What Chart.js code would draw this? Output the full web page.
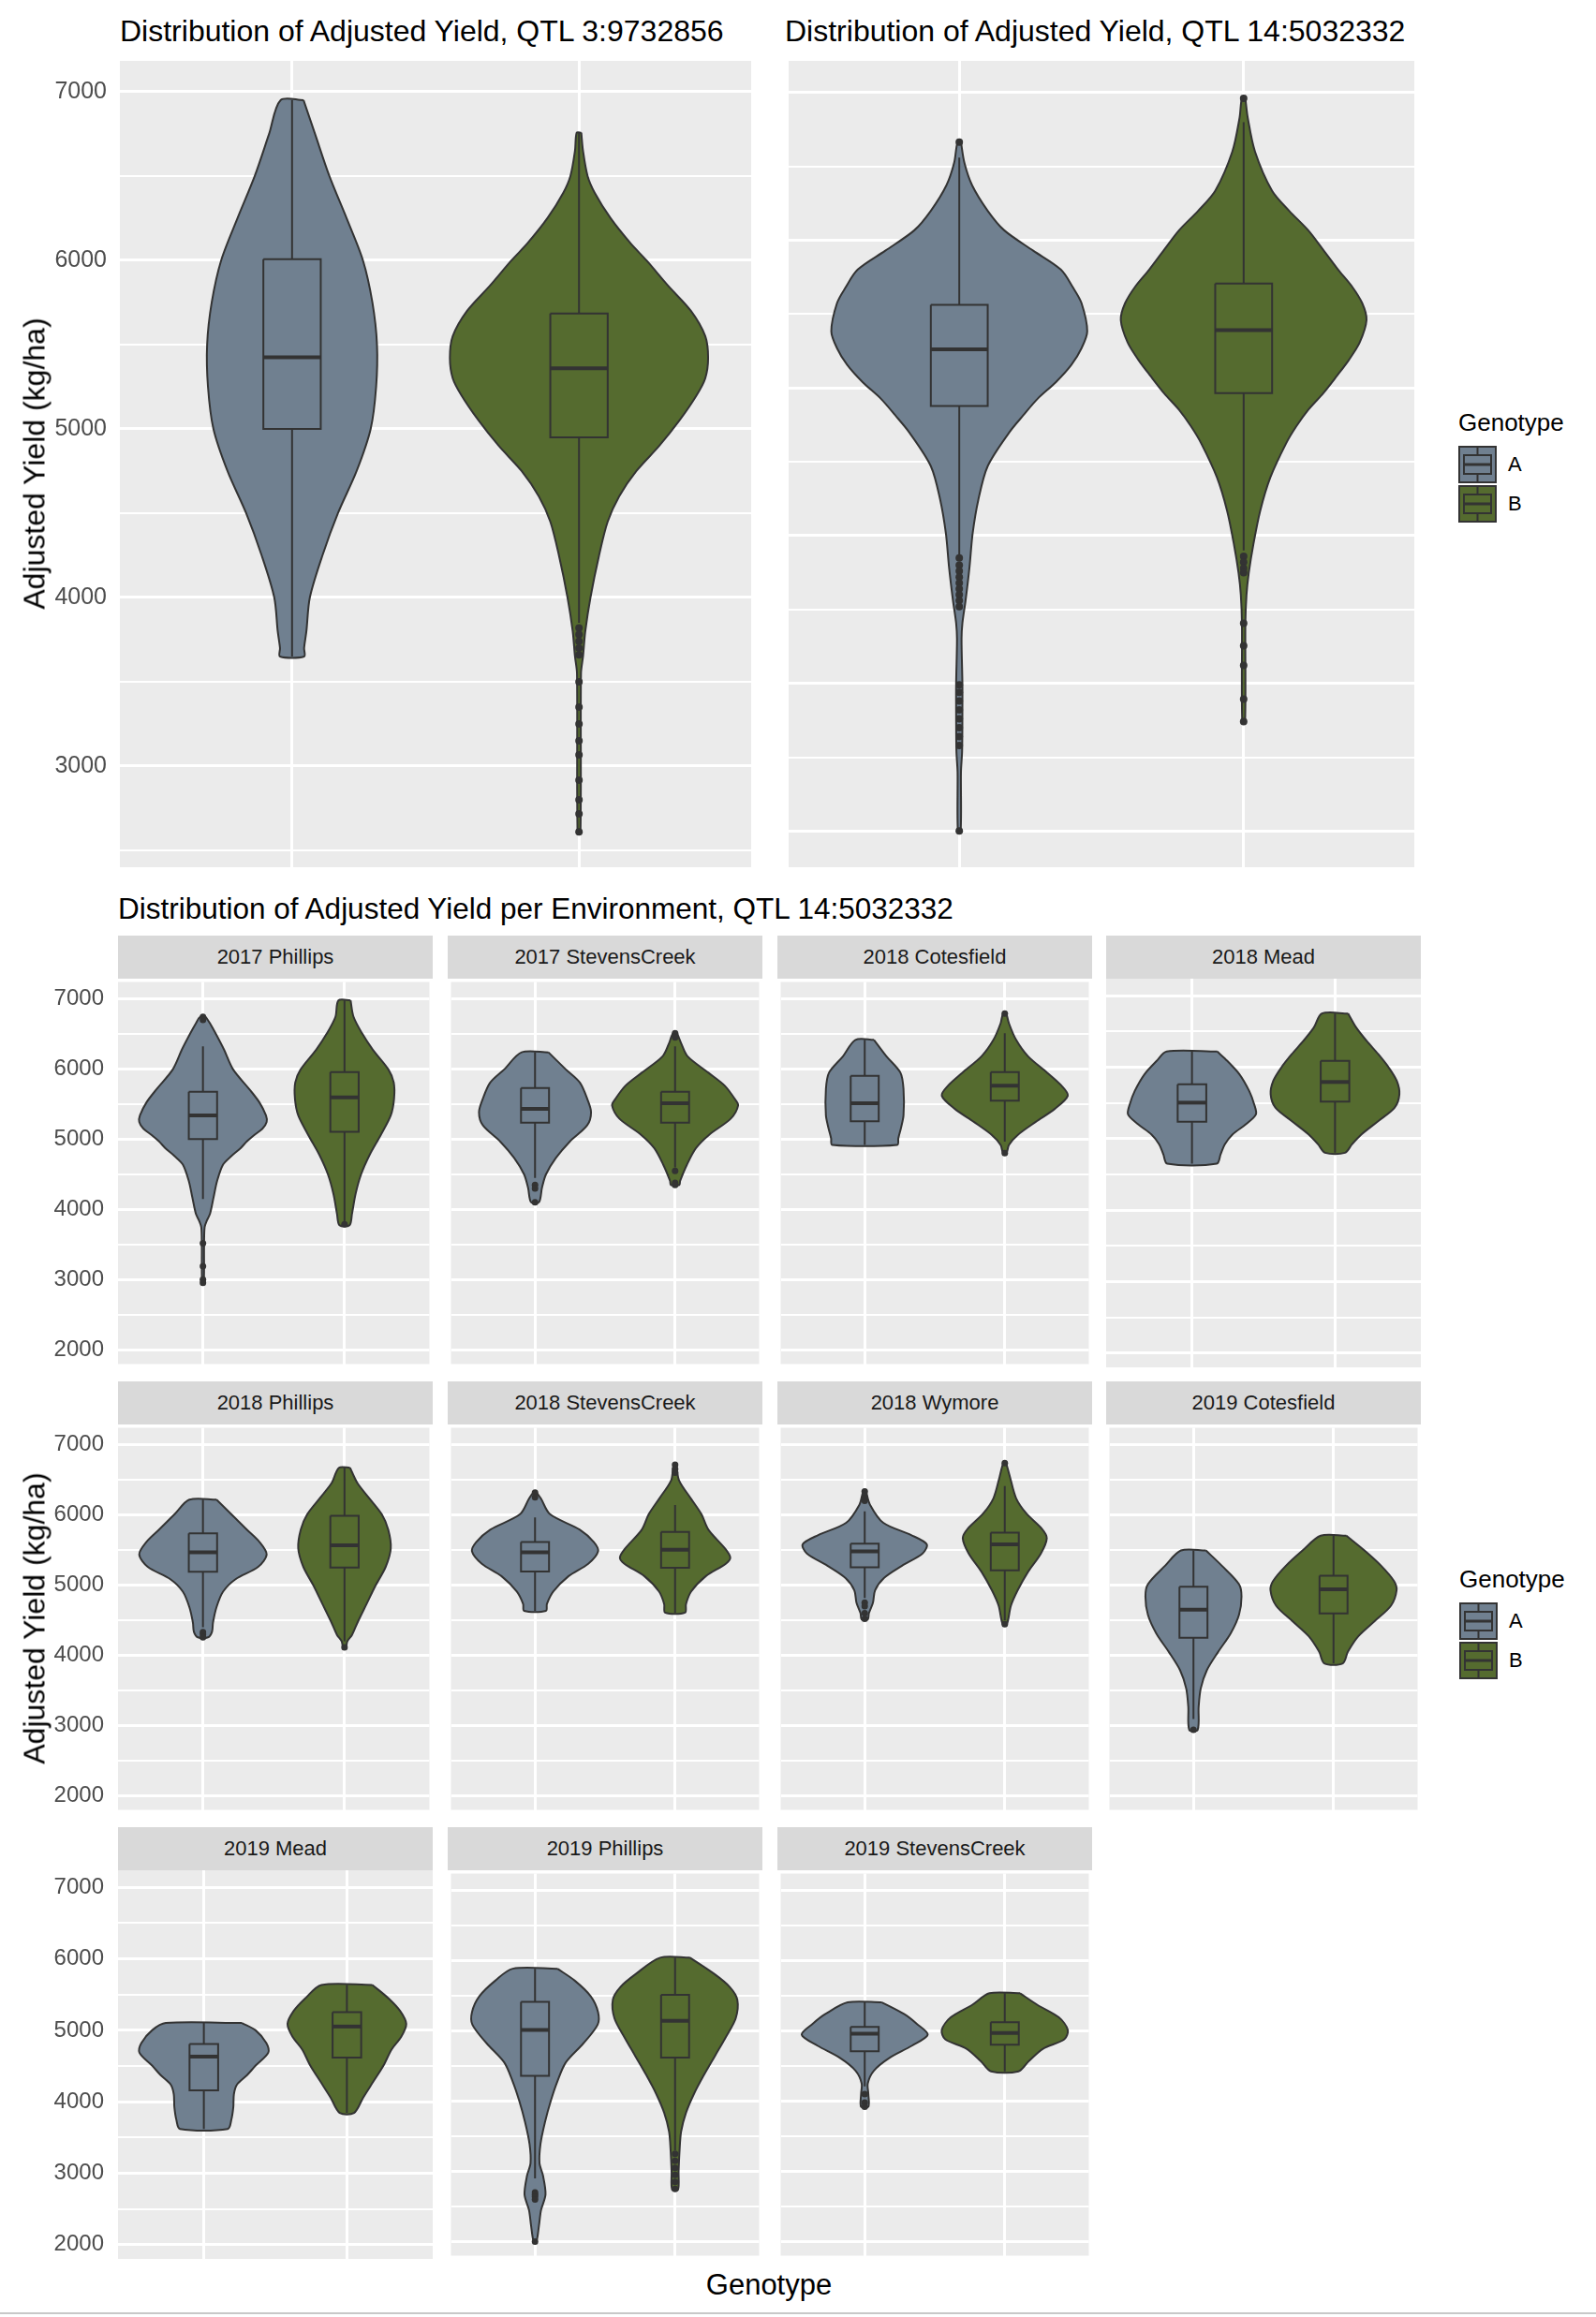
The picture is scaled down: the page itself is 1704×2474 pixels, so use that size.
<!DOCTYPE html>
<html>
<head>
<meta charset="utf-8">
<script src="https://cdn.jsdelivr.net/npm/chart.js@4.4.1/dist/chart.umd.min.js"></script>
<style>
  body { margin: 0; width: 1704px; height: 2474px; background: #fff; position: relative; overflow: hidden;
         font-family: "Liberation Sans", Arial, sans-serif; }
  .txt { position: absolute; white-space: nowrap; }
  .title { font-size: 32px; color: #000; line-height: 40px; }
  .strip { position: absolute; background: #D9D9D9; color: #1A1A1A; font-size: 22px; text-align: center;
           height: 46px; line-height: 46px; }
  .ylab { font-size: 32px; color: #000; transform: translate(-50%, -50%) rotate(-90deg); }
  .leg { font-size: 26px; color: #000; line-height: 30px; }
  .legl { font-size: 22px; color: #000; line-height: 26px; }
  canvas { position: absolute; }
</style>
</head>
<body>
<script>
// ---- categories ----
const genotypes = ['A', 'B'];
const genoPos = [1, 2];
const yBreaks = [2000, 2500, 3000, 3500, 4000, 4500, 5000, 5500, 6000, 6500, 7000];
const topTitles = ['Distribution of Adjusted Yield, QTL 3:9732856', 'Distribution of Adjusted Yield, QTL 14:5032332'];
const envTitle = 'Distribution of Adjusted Yield per Environment, QTL 14:5032332';
const envNames = ['2017 Phillips', '2017 StevensCreek', '2018 Cotesfield', '2018 Mead',
                  '2018 Phillips', '2018 StevensCreek', '2018 Wymore', '2019 Cotesfield',
                  '2019 Mead', '2019 Phillips', '2019 StevensCreek'];

// violin outlines: [yield, half width in category units]
// box stats: [lower whisker, Q1, median, Q3, upper whisker]; outliers: yields
const qtl3A = [[6950,0.04],[6750,0.08],[6500,0.13],[6250,0.19],[6000,0.247],[5750,0.28],[5500,0.296],[5250,0.293],[5000,0.274],[4750,0.225],[4500,0.16],[4250,0.106],[4000,0.062],[3800,0.05],[3700,0.042],[3650,0.042]];
const qtl3B = [[6757,0.008],[6650,0.014],[6500,0.03],[6400,0.055],[6250,0.11],[6100,0.18],[6000,0.235],[5850,0.31],[5700,0.39],[5550,0.44],[5420,0.45],[5300,0.44],[5200,0.41],[5050,0.35],[4900,0.28],[4750,0.2],[4600,0.14],[4450,0.1],[4250,0.07],[4000,0.04],[3800,0.022],[3650,0.014],[3550,0.007],[2600,0.005]];
const qtl3Box = [[3650,5000,5425,6006,6950],[3850,4950,5359,5685,6757]];
const qtl3Out = [[],[3820,3780,3740,3700,3660,3500,3350,3250,3150,3067,2917,2800,2717,2610]];

const qtl14A = [[6665,0.006],[6525,0.018],[6373,0.045],[6200,0.1],[6068,0.158],[5930,0.26],[5802,0.357],[5680,0.4],[5574,0.43],[5384,0.45],[5270,0.43],[5156,0.394],[5040,0.34],[4928,0.276],[4815,0.225],[4700,0.176],[4471,0.1],[4243,0.067],[4015,0.047],[3787,0.036],[3559,0.022],[3407,0.011],[3300,0.008],[3000,0.011],[2800,0.011],[2540,0.01],[2400,0.006],[2000,0.005]];
const qtl14B = [[6962,0.006],[6829,0.0145],[6600,0.04],[6335,0.1],[6200,0.16],[6068,0.227],[5935,0.28],[5802,0.332],[5690,0.38],[5574,0.417],[5460,0.432],[5308,0.408],[5190,0.37],[5080,0.327],[4965,0.28],[4852,0.227],[4740,0.185],[4624,0.149],[4395,0.094],[4167,0.058],[3939,0.034],[3749,0.018],[3600,0.01],[3400,0.006],[2741,0.005]];
const qtl14Box = [[3860,4878,5262,5563,6560],[3900,4966,5392,5707,6800]];
const qtl14Out = [[6665,3850,3800,3760,3720,3680,3640,3600,3560,3520,2990,2940,2880,2820,2760,2700,2640,2580,2000],
                  [6962,3860,3820,3780,3750,3407,3255,3122,2894,2741]];

const phillips17A = [[6743,0.02],[6650,0.05],[6509,0.089],[6276,0.149],[5995,0.213],[5715,0.327],[5528,0.398],[5341,0.445],[5248,0.45],[5150,0.42],[5061,0.362],[4970,0.31],[4874,0.266],[4760,0.2],[4640,0.142],[4407,0.1],[4173,0.075],[3939,0.05],[3846,0.028],[3750,0.012],[3500,0.008],[2958,0.006]];
const phillips17B = [[6977,0.043],[6743,0.064],[6509,0.124],[6276,0.2],[5995,0.31],[5808,0.348],[5575,0.35],[5341,0.327],[5061,0.256],[4780,0.178],[4500,0.117],[4220,0.078],[3939,0.053],[3776,0.036]];
const phillips17Box = [[4150,5005,5341,5678,6322],[3800,5107,5598,5958,6977]];
const phillips17Out = [[6743,6700,3519,3192,3005,2958],[3790]];

const stevens17A = [[6238,0.096],[5995,0.22],[5808,0.32],[5575,0.373],[5388,0.4],[5201,0.373],[4967,0.248],[4734,0.149],[4500,0.078],[4313,0.05],[4103,0.028]];
const stevens17B = [[6509,0.015],[6369,0.043],[6182,0.089],[5948,0.238],[5762,0.355],[5575,0.426],[5481,0.45],[5295,0.398],[5061,0.241],[4874,0.149],[4640,0.085],[4407,0.036],[4350,0.03]];
const stevens17Box = [[4450,5238,5435,5729,6238],[4600,5238,5514,5678,6322]];
const stevens17Out = [[4350,4300,4103],[6509,6450,4550,4380,4350]];

const cotes18A = [[6416,0.066],[6182,0.155],[5948,0.255],[5715,0.277],[5341,0.277],[5154,0.258],[5014,0.24],[4921,0.232]];
const cotes18B = [[6790,0.012],[6650,0.03],[6416,0.081],[6182,0.166],[5948,0.303],[5762,0.406],[5622,0.45],[5435,0.358],[5248,0.221],[5061,0.092],[4921,0.03],[4804,0.012]];
const cotes18Box = [[4921,5257,5514,5902,6416],[4967,5551,5762,5958,6509]];
const cotes18Out = [[],[6790,4804]];

const mead18A = [[6220,0.177],[6089,0.247],[5902,0.332],[5668,0.4],[5481,0.435],[5341,0.447],[5201,0.376],[5061,0.284],[4921,0.229],[4780,0.2],[4650,0.173]];
const mead18B = [[6752,0.092],[6556,0.148],[6369,0.221],[6182,0.303],[5995,0.376],[5808,0.432],[5622,0.45],[5435,0.417],[5248,0.303],[5061,0.185],[4921,0.118],[4804,0.07]];
const mead18Box = [[4650,5238,5505,5762,6220],[4804,5519,5794,6089,6752]];
const mead18Out = [[],[]];

const phillips18A = [[6216,0.096],[6009,0.2],[5789,0.31],[5612,0.4],[5436,0.45],[5260,0.39],[5084,0.23],[4907,0.142],[4687,0.096],[4467,0.071],[4335,0.064],[4256,0.036]];
const phillips18B = [[6670,0.039],[6449,0.092],[6229,0.178],[6009,0.263],[5789,0.309],[5524,0.327],[5260,0.291],[4996,0.22],[4731,0.156],[4467,0.092],[4291,0.053],[4200,0.02],[4115,0.01]];
const phillips18Box = [[4400,5189,5467,5736,6216],[4200,5251,5568,5987,6670]];
const phillips18Out = [[4330,4300,4256],[4115]];

const stevens18A = [[6317,0.012],[6229,0.043],[6009,0.107],[5789,0.32],[5612,0.42],[5480,0.45],[5304,0.38],[5128,0.24],[4907,0.13],[4731,0.085],[4634,0.078]];
const stevens18B = [[6714,0.01],[6493,0.028],[6229,0.114],[6009,0.188],[5789,0.238],[5524,0.355],[5392,0.394],[5304,0.362],[5128,0.22],[4907,0.114],[4731,0.078],[4608,0.071]];
const stevens18Box = [[4634,5194,5467,5612,5965],[4608,5247,5502,5758,6141]];
const stevens18Out = [[6317,6250],[6714,6650,6600]];

const wymore18A = [[6332,0.01],[6148,0.037],[5886,0.133],[5712,0.332],[5581,0.443],[5450,0.413],[5275,0.266],[5100,0.137],[4926,0.074],[4751,0.059],[4600,0.03],[4511,0.022]];
const wymore18B = [[6738,0.01],[6541,0.037],[6236,0.081],[6017,0.155],[5799,0.266],[5668,0.3],[5450,0.258],[5188,0.166],[4926,0.092],[4707,0.044],[4445,0.015]];
const wymore18Box = [[4817,5253,5480,5590,6050],[4500,5210,5581,5747,6410]];
const wymore18Out = [[6332,6250,6200,4750,4700,4600,4520],[6738,4445]];

const cotes19A = [[5493,0.089],[5275,0.203],[5013,0.325],[4838,0.343],[4576,0.325],[4314,0.266],[4052,0.177],[3790,0.096],[3528,0.052],[3266,0.037],[2939,0.03]];
const cotes19B = [[5703,0.092],[5493,0.221],[5275,0.34],[5057,0.432],[4926,0.45],[4707,0.41],[4489,0.295],[4271,0.177],[4052,0.103],[3886,0.066]];
const cotes19Box = [[3092,4249,4651,4978,5493],[3886,4598,4939,5135,5703]];
const cotes19Out = [[2939],[]];

const mead19A = [[5102,0.266],[5000,0.362],[4820,0.437],[4686,0.45],[4507,0.362],[4372,0.302],[4238,0.231],[4104,0.21],[3925,0.206],[3746,0.192],[3620,0.167]];
const mead19B = [[5635,0.178],[5447,0.291],[5268,0.373],[5089,0.415],[4910,0.38],[4731,0.312],[4507,0.256],[4283,0.185],[4059,0.114],[3844,0.05]];
const mead19Box = [[3620,4158,4632,4807,5102],[3844,4619,5053,5254,5635]];
const mead19Out = [[],[]];

const phillips19A = [[5885,0.16],[5715,0.284],[5492,0.398],[5268,0.45],[5089,0.447],[4820,0.344],[4551,0.22],[4283,0.16],[4014,0.114],[3701,0.071],[3388,0.039],[3119,0.032],[2940,0.057],[2671,0.075],[2448,0.043],[2224,0.028],[2000,0.01]];
const phillips19B = [[6042,0.107],[5805,0.284],[5626,0.39],[5447,0.444],[5179,0.433],[4910,0.362],[4641,0.284],[4372,0.206],[4104,0.135],[3835,0.078],[3567,0.043],[3298,0.032],[3000,0.025],[2739,0.021]];
const phillips19Box = [[2900,4359,5013,5415,5885],[3300,4619,5142,5514,6042]];
const phillips19Out = [[2700,2671,2640,2600,2000],[3250,3150,3050,2950,2850,2750]];

const stevens19A = [[5406,0.122],[5237,0.283],[5103,0.37],[4946,0.45],[4790,0.338],[4612,0.174],[4433,0.065],[4254,0.022],[4100,0.026],[3920,0.026]];
const stevens19B = [[5536,0.109],[5370,0.233],[5192,0.386],[5013,0.45],[4879,0.425],[4746,0.273],[4567,0.17],[4424,0.098]];
const stevens19Box = [[4210,4710,4960,5058,5406],[4424,4804,4969,5125,5536]];
const stevens19Out = [[4100,3980,3920],[]];

// ---- look ----
const genoFill = ['#708090', '#556B2F'];
const edge = '#333333';
const boxHalf = 0.1;
const font = '"Liberation Sans", Arial, sans-serif';
Chart.defaults.font.family = font;

Chart.register({
  id: 'panelBg',
  beforeDraw(chart) {
    const { ctx, chartArea: a } = chart;
    ctx.save();
    ctx.fillStyle = '#EBEBEB';
    ctx.fillRect(a.left, a.top, a.width, a.height);
    ctx.restore();
  }
});

function violinSets(profiles, boxes, outs, ptR) {
  const sets = [];
  genoPos.forEach((c, g) => {
    const [lw, q1, med, q3, uw] = boxes[g];
    const right = profiles[g].map(([y, w]) => ({ x: c + w, y }));
    const left = profiles[g].slice().reverse().map(([y, w]) => ({ x: c - w, y }));
    sets.push({ label: genotypes[g], data: right.concat(left, [right[0]]), fill: 'shape',
      backgroundColor: genoFill[g], borderColor: edge, borderWidth: 2, tension: 0.3, order: 5 });
    sets.push({ data: [{ x: c, y: q3 }, { x: c, y: uw }], borderColor: edge, borderWidth: 2, order: 4 });
    sets.push({ data: [{ x: c, y: q1 }, { x: c, y: lw }], borderColor: edge, borderWidth: 2, order: 4 });
    sets.push({ data: [{ x: c - boxHalf, y: q3 }, { x: c + boxHalf, y: q3 }, { x: c + boxHalf, y: q1 },
                       { x: c - boxHalf, y: q1 }, { x: c - boxHalf, y: q3 }],
      fill: 'shape', backgroundColor: genoFill[g], borderColor: edge, borderWidth: 2, order: 3 });
    sets.push({ data: [{ x: c - boxHalf, y: med }, { x: c + boxHalf, y: med }], borderColor: edge, borderWidth: 4, order: 2 });
    sets.push({ data: outs[g].map(y => ({ x: c, y })), showLine: false, pointRadius: ptR,
      pointBackgroundColor: edge, pointBorderWidth: 0, order: 1 });
  });
  return sets;
}

function makePanel(o) {
  const cv = document.createElement('canvas');
  cv.width = o.axisW + o.w;
  cv.height = o.h;
  cv.style.left = (o.x - o.axisW) + 'px';
  cv.style.top = o.y + 'px';
  document.body.appendChild(cv);
  new Chart(cv, {
    type: 'line',
    data: { datasets: violinSets(o.profiles, o.boxes, o.outs, o.ptR) },
    options: {
      responsive: false,
      animation: false,
      layout: { padding: 0 },
      elements: { point: { radius: 0, hoverRadius: 0 } },
      plugins: { legend: { display: false }, tooltip: { enabled: false } },
      scales: {
        x: {
          type: 'linear', min: 0.4, max: 2.6,
          afterBuildTicks: s => { s.ticks = genoPos.map(v => ({ value: v })); },
          afterFit: s => { s.height = 0; s.paddingLeft = 0; s.paddingRight = 0; },
          ticks: { display: false },
          grid: { color: '#FFFFFF', lineWidth: 3, drawTicks: false },
          border: { display: false }
        },
        y: {
          type: 'linear', min: o.yMin, max: o.yMax,
          afterBuildTicks: s => { s.ticks = yBreaks.filter(v => v >= s.min && v <= s.max).map(v => ({ value: v })); },
          afterFit: s => { s.width = o.axisW; s.paddingTop = 0; s.paddingBottom = 0; },
          ticks: { display: o.axisW > 0, padding: o.pad, color: '#4D4D4D', font: { size: o.fs },
                   callback: v => (v % 1000 === 0 ? String(v) : '') },
          grid: { color: '#FFFFFF', drawTicks: false,
                  lineWidth: c => (c.tick && c.tick.value % 1000 === 0 ? 3 : 2) },
          border: { display: false }
        }
      }
    }
  });
}

function addText(cls, text, left, top, extra) {
  const d = document.createElement('div');
  d.className = 'txt ' + cls;
  d.textContent = text;
  d.style.left = left + 'px';
  d.style.top = top + 'px';
  if (extra) Object.assign(d.style, extra);
  document.body.appendChild(d);
  return d;
}

function legendKey(x, y, g) {
  const cv = document.createElement('canvas');
  cv.width = 41; cv.height = 40;
  cv.style.left = x + 'px'; cv.style.top = y + 'px';
  document.body.appendChild(cv);
  const ctx = cv.getContext('2d');
  ctx.fillStyle = genoFill[g];
  ctx.fillRect(1, 1, 39, 38);
  ctx.strokeStyle = edge;
  ctx.lineWidth = 2;
  ctx.strokeRect(1, 1, 39, 38);
  ctx.strokeRect(6, 10, 29, 20);
  ctx.beginPath();
  ctx.moveTo(20.5, 1); ctx.lineTo(20.5, 10);
  ctx.moveTo(20.5, 30); ctx.lineTo(20.5, 39);
  ctx.stroke();
  ctx.lineWidth = 3;
  ctx.beginPath(); ctx.moveTo(6, 20); ctx.lineTo(35, 20); ctx.stroke();
}

function legend(x, y) {
  addText('leg', 'Genotype', x, y - 15);
  genotypes.forEach((g, i) => {
    legendKey(x, y + 25 + i * 42, i);
    addText('legl', g, x + 53, y + 25 + i * 42 + 7);
  });
}

// ---- top row ----
addText('title', topTitles[0], 128, 13);
addText('title', topTitles[1], 838, 13);
makePanel({ x: 128, y: 61, w: 678, h: 869, axisW: 128, pad: 14, fs: 25, yMin: 2400, yMax: 7183,
            profiles: [qtl3A, qtl3B], boxes: qtl3Box, outs: qtl3Out, ptR: 4 });
makePanel({ x: 838, y: 61, w: 676, h: 869, axisW: 0, pad: 14, fs: 25, yMin: 1755, yMax: 7215,
            profiles: [qtl14A, qtl14B], boxes: qtl14Box, outs: qtl14Out, ptR: 4 });
addText('ylab', 'Adjusted Yield (kg/ha)', 37, 495);
legend(1557, 451);

// ---- facets ----
addText('title', envTitle, 126, 950, { fontSize: '31.5px' });
const envProfiles = [[phillips17A, phillips17B], [stevens17A, stevens17B], [cotes18A, cotes18B], [mead18A, mead18B],
                     [phillips18A, phillips18B], [stevens18A, stevens18B], [wymore18A, wymore18B], [cotes19A, cotes19B],
                     [mead19A, mead19B], [phillips19A, phillips19B], [stevens19A, stevens19B]];
const envBoxes = [phillips17Box, stevens17Box, cotes18Box, mead18Box, phillips18Box, stevens18Box,
                  wymore18Box, cotes19Box, mead19Box, phillips19Box, stevens19Box];
const envOuts = [phillips17Out, stevens17Out, cotes18Out, mead18Out, phillips18Out, stevens18Out,
                 wymore18Out, cotes19Out, mead19Out, phillips19Out, stevens19Out];
const colX = [126, 478, 830, 1181];
const rowY = [999, 1475, 1951];
envNames.forEach((name, i) => {
  const c = i % 4, r = Math.floor(i / 4);
  const x = colX[c], y = rowY[r];
  const s = document.createElement('div');
  s.className = 'strip';
  s.textContent = name;
  Object.assign(s.style, { left: x + 'px', top: y + 'px', width: '336px' });
  document.body.appendChild(s);
  makePanel({ x, y: y + 46, w: 336, h: 415, axisW: c === 0 ? 126 : 0, pad: 15, fs: 24, yMin: 1800, yMax: 7240,
              profiles: envProfiles[i], boxes: envBoxes[i], outs: envOuts[i], ptR: 3.5 });
});
addText('ylab', 'Adjusted Yield (kg/ha)', 37, 1728);
addText('title', 'Genotype', 821, 2420, { transform: 'translateX(-50%)', fontSize: '31px' });
legend(1558, 1686);

const rule = document.createElement('div');
Object.assign(rule.style, { position: 'absolute', left: '0px', top: '2469px', width: '1704px', height: '2px', background: '#C8C8C8' });
document.body.appendChild(rule);
</script>
</body>
</html>
